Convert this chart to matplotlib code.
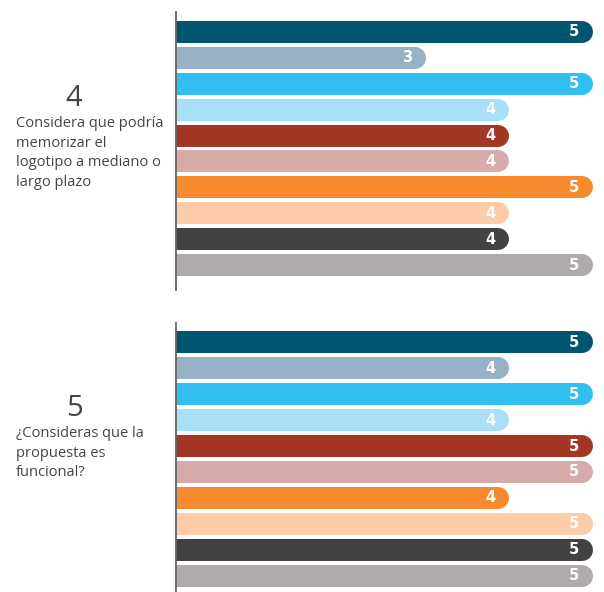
import matplotlib.pyplot as plt
from matplotlib.transforms import ScaledTranslation

# data
colors = ["#02556f", "#97b2c5", "#31bff0", "#a9e0f9", "#a33624",
          "#d7abaa", "#f68a2e", "#fccba7", "#434144", "#afaaad"]
q4_values = [5, 3, 5, 4, 4, 4, 5, 4, 4, 5]
q5_values = [5, 4, 5, 4, 5, 5, 4, 5, 5, 5]
q4_number = "4"
q4_text = "Considera que podría\nmemorizar el\nlogotipo a mediano o\nlargo plazo"
q5_number = "5"
q5_text = "¿Consideras que la\npropuesta es\nfuncional?"

W, H = 604, 592
fig = plt.figure(figsize=(W / 100, H / 100), dpi=100)

BAR_PX = 22
PITCH = 25.9


def panel(top, bottom, values, top_m, bot_m):
    ax = fig.add_axes([176 / W, 1 - bottom / H, (W - 176) / W, (bottom - top) / H])
    ax.set_xlim(0, (W - 176) / 83.3)
    ax.set_ylim(len(values) - 1 + bot_m / PITCH, -top_m / PITCH)
    ax.set_xticks([])
    ax.set_yticks([])
    for s in ["top", "right", "bottom"]:
        ax.spines[s].set_visible(False)
    ax.spines["left"].set_color("#666666")
    ax.spines["left"].set_linewidth(1.3)
    ax.spines["left"].set_zorder(5)

    lw = BAR_PX * 72 / 100
    r_in = BAR_PX / 2 / 100
    shift = ScaledTranslation(-r_in, 0, fig.dpi_scale_trans)
    lab_shift = ScaledTranslation(-19 / 100, 0, fig.dpi_scale_trans)
    for i, v in enumerate(values):
        ax.plot([-1, v], [i, i], color=colors[i], lw=lw,
                solid_capstyle="round", transform=ax.transData + shift)
        ax.text(v, i, str(v), color="white", fontsize=10.5, fontweight="bold",
                ha="center", va="center", transform=ax.transData + lab_shift)
    return ax


panel(12, 290, q4_values, 20, 25)
panel(323, 592, q5_values, 19, 16)

txt = dict(color="#444444", family="Open Sans")
fig.text(74 / W, 1 - 99 / H, q4_number, fontsize=21, ha="center", va="center", **txt)
fig.text(16 / W, 1 - 116 / H, q4_text, fontsize=10.5, ha="left", va="top",
         linespacing=1.42, **txt)
fig.text(74 / W, 1 - 409 / H, q5_number, fontsize=21, ha="center", va="center", **txt)
fig.text(16 / W, 1 - 426 / H, q5_text, fontsize=10.5, ha="left", va="top",
         linespacing=1.42, **txt)

fig.savefig("out.png", dpi=100)
